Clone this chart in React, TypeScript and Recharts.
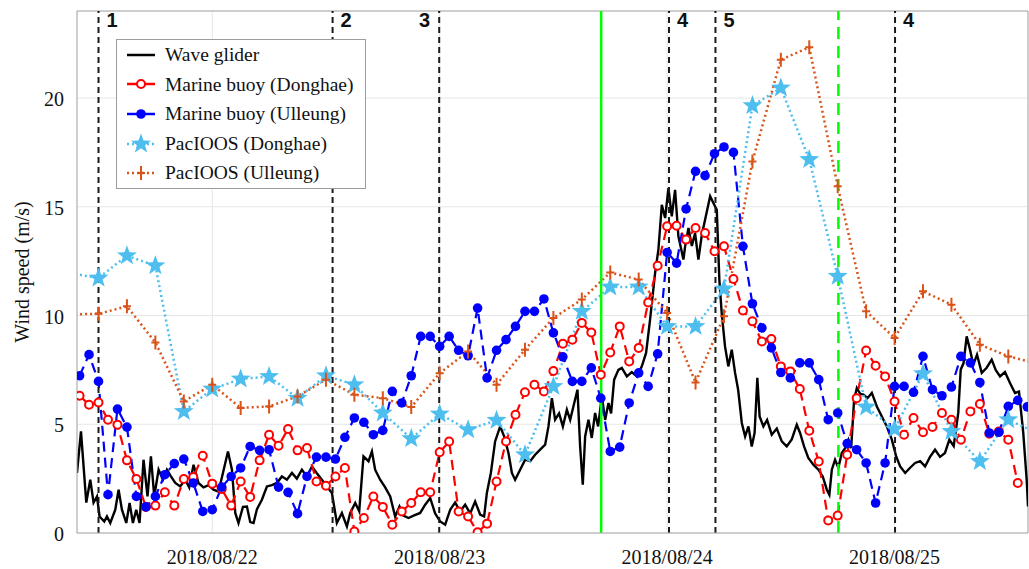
import {
  ComposedChart,
  Line,
  XAxis,
  YAxis,
  CartesianGrid,
  ReferenceLine,
  Legend,
} from "recharts";

const SERIF = '"Liberation Serif", "Times New Roman", serif';
const SANS = '"Liberation Sans", Arial, sans-serif';

// time axis: hours since 2018/08/21 00:00
const xMin = 9.73;
const xMax = 110.08;

const dayTicks = [24, 48, 72, 96];
const dayLabels = ["2018/08/22", "2018/08/23", "2018/08/24", "2018/08/25"];
const speedTicks = [0, 5, 10, 15, 20];

// numbered events (dashed black) and the two green markers
const eventHours = [12, 36.7, 47.95, 72.2, 77.1, 96.05];
const eventLabels = ["1", "2", "3", "4", "5", "4"];
const eventLabelLeft = [false, false, true, false, false, false];
const greenSolidHour = 65.04;
const greenDashedHour = 90.07;

// Wave glider
const gliderHours = [
  9.73, 10.15, 10.71, 11.13, 11.48, 11.84, 12.11, 12.61, 12.89, 13.24,
  13.77, 14.12, 14.47, 14.93, 15.28, 15.63, 15.98, 16.33, 16.75, 17.17,
  17.53, 17.88, 18.34, 18.8, 19.22, 19.64, 20.1, 20.62, 21.15, 21.57,
  22.03, 22.55, 23.08, 23.61, 24.14, 24.66, 25.13, 25.66, 26.08, 26.43,
  26.77, 27.24, 27.66, 28.01, 28.36, 28.72, 29.24, 29.77, 30.3, 30.83,
  31.35, 31.88, 32.41, 32.93, 33.46, 33.99, 34.52, 35.04, 35.57, 36.1,
  36.63, 37.15, 37.68, 38.21, 38.56, 39.09, 39.51, 39.96, 40.49, 40.85,
  41.19, 41.72, 42.25, 42.78, 43.3, 43.76, 44.18, 44.71, 45.24, 45.94,
  46.47, 47.0, 47.52, 48.05, 48.58, 49.11, 49.63, 50.16, 50.69, 51.22,
  51.74, 52.27, 52.69, 52.98, 53.4, 53.85, 54.38, 54.8, 55.26, 55.62,
  55.96, 56.49, 57.02, 57.55, 58.07, 58.6, 59.13, 59.48, 59.84, 60.18,
  60.6, 61.0, 61.42, 61.77, 62.11, 62.54, 62.82, 63.1, 63.35, 63.7,
  64.05, 64.4, 64.72, 65.11, 65.46, 65.81, 66.09, 66.41, 66.86, 67.22,
  67.75, 68.27, 68.8, 69.33, 69.78, 70.2, 70.73, 71.08, 71.44, 71.79,
  72.14, 72.49, 72.84, 73.19, 73.72, 73.9, 74.25, 74.61, 74.95, 75.3,
  75.66, 76.01, 76.54, 76.88, 77.24, 77.51, 77.76, 78.11, 78.46, 78.82,
  79.17, 79.49, 79.88, 80.23, 80.58, 80.93, 81.23, 81.52, 81.76, 82.16,
  82.55, 83.04, 83.57, 84.1, 84.62, 85.15, 85.68, 86.03, 86.45, 86.9,
  87.43, 87.96, 88.42, 88.85, 89.12, 89.38, 89.72, 90.07, 90.43, 90.78,
  91.13, 91.42, 91.73, 92.02, 92.37, 92.72, 93.14, 93.6, 94.13, 94.66,
  95.18, 95.71, 96.17, 96.59, 97.12, 97.64, 98.17, 98.7, 99.22, 99.74,
  100.27, 100.8, 101.32, 101.78, 102.24, 102.72, 102.98, 103.27, 103.61, 103.96,
  104.31, 104.7, 105.2, 105.72, 106.25, 106.67, 107.13, 107.65, 108.18, 108.71,
  109.13, 109.58, 109.94, 110.08,
];
const gliderSpeed = [
  2.76, 4.67, 1.4, 2.45, 1.4, 1.68, 0.76, 0.53, 0.76, 0.46,
  1.07, 1.99, 1.07, 0.46, 1.38, 0.46, 1.07, 0.46, 3.37, 1.68,
  3.52, 1.68, 2.91, 2.45, 2.91, 2.6, 2.3, 2.14, 2.45, 2.1,
  3.14, 2.3, 2.1, 2.2, 1.99, 1.9, 2.76, 3.75, 2.91, 0.92,
  0.46, 1.2, 1.22, 0.5, 0.46, 1.1, 1.53, 2.14, 2.2, 2.3,
  2.6, 2.45, 2.76, 2.5, 2.91, 2.6, 3.06, 2.75, 2.45, 2.14,
  1.84, 0.46, 0.92, 0.3, 0.92, 1.38, 1.0, 3.52, 3.3, 3.75,
  2.91, 2.45, 2.1, 1.68, 0.76, 1.22, 0.8, 0.69, 0.8, 0.92,
  1.3, 1.61, 0.9, 0.53, 0.38, 1.07, 1.4, 1.0, 1.3, 0.9,
  1.45, 0.85, 0.76, 1.84, 2.76, 4.21, 4.9, 4.44, 3.68, 2.76,
  2.45, 2.91, 3.37, 3.3, 3.6, 3.83, 4.06, 4.9, 6.2, 5.21,
  5.5, 4.9, 5.67, 5.2, 5.82, 6.59, 3.98, 2.22, 4.44, 5.21,
  4.37, 5.52, 4.9, 6.28, 5.2, 5.98, 5.5, 7.05, 7.5, 7.59,
  7.2, 7.4, 7.2, 7.66, 8.28, 9.81, 11.95, 13.03, 15.09, 14.48,
  15.86, 14.56, 15.78, 13.64, 12.57, 13.18, 14.02, 13.2, 13.79, 12.57,
  13.7, 14.41, 15.48, 15.17, 14.86, 11.65, 10.11, 8.58, 7.66, 8.43,
  7.36, 6.6, 5.06, 4.44, 4.9, 3.98, 4.6, 7.13, 5.36, 4.9,
  5.2, 4.52, 4.8, 4.21, 3.98, 4.3, 4.98, 4.6, 3.98, 3.45,
  3.14, 2.91, 2.6, 1.99, 1.76, 2.91, 3.37, 3.0, 3.68, 3.9,
  4.29, 3.9, 6.13, 6.67, 6.4, 6.36, 6.2, 6.44, 5.82, 5.36,
  4.9, 4.29, 3.52, 3.06, 2.76, 3.0, 3.22, 3.3, 3.06, 3.5,
  3.83, 3.5, 3.68, 4.29, 4.0, 5.52, 7.51, 7.8, 9.04, 8.43,
  7.74, 8.2, 7.36, 7.6, 7.97, 7.5, 7.2, 7.4, 6.9, 6.44,
  6.5, 4.6, 2.45, 1.22,
];

// hourly marine buoys
const buoyHours = [
  10, 11, 12, 13, 14, 15, 16, 17, 18, 19,
  20, 21, 22, 23, 24, 25, 26, 27, 28, 29,
  30, 31, 32, 33, 34, 35, 36, 37, 38, 39,
  40, 41, 42, 43, 44, 45, 46, 47, 48, 49,
  50, 51, 52, 53, 54, 55, 56, 57, 58, 59,
  60, 61, 62, 63, 64, 65, 66, 67, 68, 69,
  70, 71, 72, 73, 74, 75, 76, 77, 78, 79,
  80, 81, 82, 83, 84, 85, 86, 87, 88, 89,
  90, 91, 92, 93, 94, 95, 96, 97, 98, 99,
  100, 101, 102, 103, 104, 105, 106, 107, 108, 109,
  110,
];
const buoyDonghae = [
  6.31, 5.9, 6.0, 5.21, 4.98, 3.34, 2.48, 1.2, 1.26, 1.87,
  1.26, 2.48, 2.57, 3.55, 2.27, 2.02, 1.26, 2.37, 1.66, 3.34,
  4.52, 4.01, 4.78, 3.8, 3.91, 2.37, 2.17, 2.6, 2.99, 0.07,
  0.69, 1.68, 1.2, 0.38, 0.99, 1.38, 1.87, 1.87, 3.71, 4.21,
  0.99, 0.76, 0.03, 0.43, 2.37, 4.21, 5.44, 6.47, 6.82, 6.51,
  7.45, 8.7, 8.89, 9.66, 9.22, 7.28, 8.3, 9.5, 7.89, 8.51,
  10.6, 12.29, 14.1, 14.13, 13.49, 14.02, 13.79, 12.95, 13.18, 11.68,
  10.23, 9.73, 8.81, 8.92, 7.66, 7.43, 6.62, 4.7, 3.29, 0.58,
  0.8, 3.6, 6.2, 8.39, 7.69, 7.2, 6.05, 4.52, 5.29, 4.63,
  4.87, 5.52, 5.21, 4.29, 5.59, 5.93, 4.56, 4.67, 4.29, 2.3,
  null,
];
const buoyUlleung = [
  7.23, 8.2, 6.97, 1.76, 5.7, 4.87, 1.68, 1.2, 1.68, 2.68,
  3.19, 3.4, 2.3, 0.99, 1.07, 2.11, 2.6, 2.99, 3.98, 3.8,
  3.83, 2.11, 1.87, 0.89, 2.6, 3.49, 3.49, 3.4, 4.4, 5.29,
  5.09, 4.52, 4.72, 6.51, 5.98, 7.23, 9.04, 9.04, 8.58, 9.04,
  8.4, 8.15, 10.34, 7.13, 8.4, 8.89, 9.5, 10.19, 10.19, 10.76,
  9.2, 8.1, 6.97, 6.97, 7.59, 6.2, 3.75, 3.95, 5.98, 7.36,
  6.74, 8.24, 12.9, 12.41, 14.9, 16.63, 16.43, 17.44, 17.75, 17.5,
  13.18, 10.54, 9.43, 8.51, 7.38, 7.13, 7.82, 7.82, 7.05, 5.21,
  5.52, 4.11, 3.83, 3.22, 1.38, 3.22, 6.74, 6.74, 6.47, 8.12,
  6.59, 6.31, 6.71, 8.12, 7.82, 6.92, 4.6, 4.63, 5.82, 6.1,
  5.8,
];

// 3-hourly PacIOOS model output
const pacHours = [
  9, 12, 15, 18, 21, 24, 27, 30, 33, 36, 39, 42, 45, 48, 51, 54, 57, 60,
  63, 66, 69, 72, 75, 78, 81, 84, 87, 90, 93, 96, 99, 102, 105, 108, 111,
];
const pacDonghae = [
  11.95, 11.72, 12.75, 12.29, 5.59, 6.62, 7.08, 7.2, 6.2, 7.23, 6.82, 5.52,
  4.34, 5.47, 4.75, 5.18, 3.6, 6.74, 10.19, 11.31, 11.31, 9.5, 9.5, 11.22,
  19.65, 20.46, 17.17, 11.8, 5.79, 4.78, 7.32, 4.67, 3.29, 5.21, 4.6,
];
const pacUlleung = [
  10.05, 10.08, 10.42, 8.76, 6.05, 6.82, 5.75, 5.82, 6.28, 7.05, 6.36, 6.2,
  5.79, 7.35, 8.35, 6.82, 8.43, 9.89, 10.73, 11.98, 11.65, 10.11, 6.92, 9.96,
  17.08, 21.76, 22.33, 15.94, 10.19, 8.97, 11.11, 10.5, 8.66, 8.12, 7.8,
];

const toPoints = (hours: number[], values: (number | null)[]) =>
  hours.map((h, i) => ({ h, v: values[i] }));

const gliderData = toPoints(gliderHours, gliderSpeed);
const donghaeBuoyData = toPoints(buoyHours, buoyDonghae);
const ulleungBuoyData = toPoints(buoyHours, buoyUlleung);
const donghaePacData = toPoints(pacHours, pacDonghae);
const ulleungPacData = toPoints(pacHours, pacUlleung);

const C_RED = "#ff0000";
const C_BLUE = "#0000ff";
const C_SKY = "#4dbeee";
const C_ORANGE = "#d95319";
const C_AXIS = "#a8a8a8";

const inRange = (p: any) =>
  p && p.cx != null && p.cy != null && p.payload && p.payload.v != null &&
  p.payload.h >= xMin && p.payload.h <= xMax;

function starPoints(cx: number, cy: number, ro: number, ri: number) {
  const pts: string[] = [];
  for (let k = 0; k < 10; k++) {
    const r = k % 2 === 0 ? ro : ri;
    const a = -Math.PI / 2 + (k * Math.PI) / 5;
    pts.push(`${(cx + r * Math.cos(a)).toFixed(2)},${(cy + r * Math.sin(a)).toFixed(2)}`);
  }
  return pts.join(" ");
}

const openCircle = (p: any) =>
  inRange(p) ? (
    <circle key={p.key} cx={p.cx} cy={p.cy} r={4} fill="#fff" stroke={C_RED} strokeWidth={2} />
  ) : (
    <g key={p.key} />
  );

const filledCircle = (p: any) =>
  inRange(p) ? (
    <circle key={p.key} cx={p.cx} cy={p.cy} r={4.8} fill={C_BLUE} stroke="none" />
  ) : (
    <g key={p.key} />
  );

const starDot = (p: any) =>
  inRange(p) ? (
    <polygon key={p.key} points={starPoints(p.cx, p.cy, 10.5, 4.3)} fill={C_SKY} stroke="none" />
  ) : (
    <g key={p.key} />
  );

const plusDot = (p: any) =>
  inRange(p) ? (
    <path
      key={p.key}
      d={`M${p.cx - 4},${p.cy} H${p.cx + 4} M${p.cx},${p.cy - 7} V${p.cy + 7}`}
      stroke={C_ORANGE}
      strokeWidth={2}
      fill="none"
    />
  ) : (
    <g key={p.key} />
  );

const xTick = (p: any) => {
  const idx = dayTicks.indexOf(p.payload.value);
  return (
    <text x={p.x} y={p.y + 29} textAnchor="middle" fontFamily={SERIF} fontSize={20} fill="#111">
      {dayLabels[idx]}
    </text>
  );
};

const yTick = (p: any) => (
  <text x={p.x - 11} y={p.y + 1} textAnchor="end" dominantBaseline="central" fontFamily={SERIF} fontSize={20} fill="#111">
    {p.payload.value}
  </text>
);

const eventLabel = (text: string, left: boolean) => (p: any) => {
  const vb = p.viewBox || {};
  return (
    <text
      x={left ? vb.x - 9 : vb.x + 8}
      y={vb.y + 16}
      textAnchor={left ? "end" : "start"}
      fontFamily={SANS}
      fontWeight="bold"
      fontSize={20}
      fill="#111"
    >
      {text}
    </text>
  );
};

const legendRows = [
  { name: "Wave glider", color: "#000", dash: undefined as string | undefined, marker: "none" },
  { name: "Marine buoy (Donghae)", color: C_RED, dash: undefined, marker: "open" },
  { name: "Marine buoy (Ulleung)", color: C_BLUE, dash: undefined, marker: "filled" },
  { name: "PacIOOS (Donghae)", color: C_SKY, dash: "2 3", marker: "star" },
  { name: "PacIOOS (Ulleung)", color: C_ORANGE, dash: "2 3", marker: "plus" },
];

function LegendBox() {
  return (
    <div
      style={{
        width: 250,
        height: 150,
        boxSizing: "border-box",
        border: "1px solid #9c9c9c",
        background: "#fff",
        fontFamily: SERIF,
        fontSize: 19.5,
        color: "#111",
      }}
    >
      {legendRows.map((row) => (
        <div key={row.name} style={{ display: "flex", alignItems: "center", height: 29.6 }}>
          <svg width={48} height={22} style={{ flex: "none" }}>
            <line x1={10} x2={38} y1={11} y2={11} stroke={row.color} strokeWidth={2.5} strokeDasharray={row.dash} />
            {row.marker === "open" && <circle cx={24} cy={11} r={4} fill="#fff" stroke={C_RED} strokeWidth={2} />}
            {row.marker === "filled" && <circle cx={24} cy={11} r={4.8} fill={C_BLUE} />}
            {row.marker === "star" && <polygon points={starPoints(24, 11, 10.5, 4.3)} fill={C_SKY} />}
            {row.marker === "plus" && (
              <path d="M20,11 H28 M24,4 V18" stroke={C_ORANGE} strokeWidth={2} fill="none" />
            )}
          </svg>
          <span style={{ whiteSpace: "nowrap", lineHeight: 1 }}>{row.name}</span>
        </div>
      ))}
    </div>
  );
}

export default function App() {
  return (
    <div style={{ position: "absolute", left: 0, top: 0, width: 1029, height: 569, background: "#fff" }}>
      <ComposedChart width={1029} height={569} margin={{ top: 11, right: 1, bottom: 0, left: 0 }}>
        <CartesianGrid stroke="#e6e6e6" strokeWidth={1} />
        <XAxis
          type="number"
          dataKey="h"
          domain={[xMin, xMax]}
          allowDataOverflow
          ticks={dayTicks}
          tick={xTick}
          tickLine={false}
          tickSize={0}
          height={36}
          axisLine={{ stroke: C_AXIS }}
        />
        <YAxis
          type="number"
          domain={[0, 24]}
          allowDataOverflow
          ticks={speedTicks}
          tick={yTick}
          tickLine={false}
          tickSize={0}
          width={77}
          axisLine={{ stroke: C_AXIS }}
        />
        <ReferenceLine y={24} stroke={C_AXIS} />
        <ReferenceLine x={xMax} stroke={C_AXIS} />
        <Legend
          layout="vertical"
          align="center"
          verticalAlign="middle"
          content={() => <LegendBox />}
          wrapperStyle={{ left: 116, top: 39, width: 250, height: 150 }}
        />

        <Line
          data={gliderData}
          dataKey="v"
          type="linear"
          stroke="#000"
          strokeWidth={2.4}
          dot={false}
          activeDot={false}
          isAnimationActive={false}
        />
        <Line
          data={donghaeBuoyData}
          dataKey="v"
          type="linear"
          stroke={C_RED}
          strokeWidth={2.2}
          strokeDasharray="10 6"
          dot={openCircle}
          activeDot={false}
          isAnimationActive={false}
        />
        <Line
          data={ulleungBuoyData}
          dataKey="v"
          type="linear"
          stroke={C_BLUE}
          strokeWidth={2.2}
          strokeDasharray="10 6"
          dot={filledCircle}
          activeDot={false}
          isAnimationActive={false}
        />
        <Line
          data={donghaePacData}
          dataKey="v"
          type="linear"
          stroke={C_SKY}
          strokeWidth={2.5}
          strokeDasharray="2 3"
          dot={starDot}
          activeDot={false}
          isAnimationActive={false}
        />
        <Line
          data={ulleungPacData}
          dataKey="v"
          type="linear"
          stroke={C_ORANGE}
          strokeWidth={2.5}
          strokeDasharray="2 3"
          dot={plusDot}
          activeDot={false}
          isAnimationActive={false}
        />

        {eventHours.map((h, i) => (
          <ReferenceLine
            key={`ev-${i}`}
            x={h}
            stroke="#1a1a1a"
            strokeWidth={2}
            strokeDasharray="6 4"
            label={eventLabel(eventLabels[i], eventLabelLeft[i])}
          />
        ))}
        <ReferenceLine x={greenSolidHour} stroke="#00ff00" strokeWidth={2.5} />
        <ReferenceLine x={greenDashedHour} stroke="#00ff00" strokeWidth={2.5} strokeDasharray="12 7" />
      </ComposedChart>
      <div
        style={{
          position: "absolute",
          left: 22,
          top: 272,
          transform: "translate(-50%, -50%) rotate(-90deg)",
          fontFamily: SERIF,
          fontSize: 20,
          color: "#111",
          whiteSpace: "nowrap",
        }}
      >
        Wind speed (m/s)
      </div>
    </div>
  );
}
